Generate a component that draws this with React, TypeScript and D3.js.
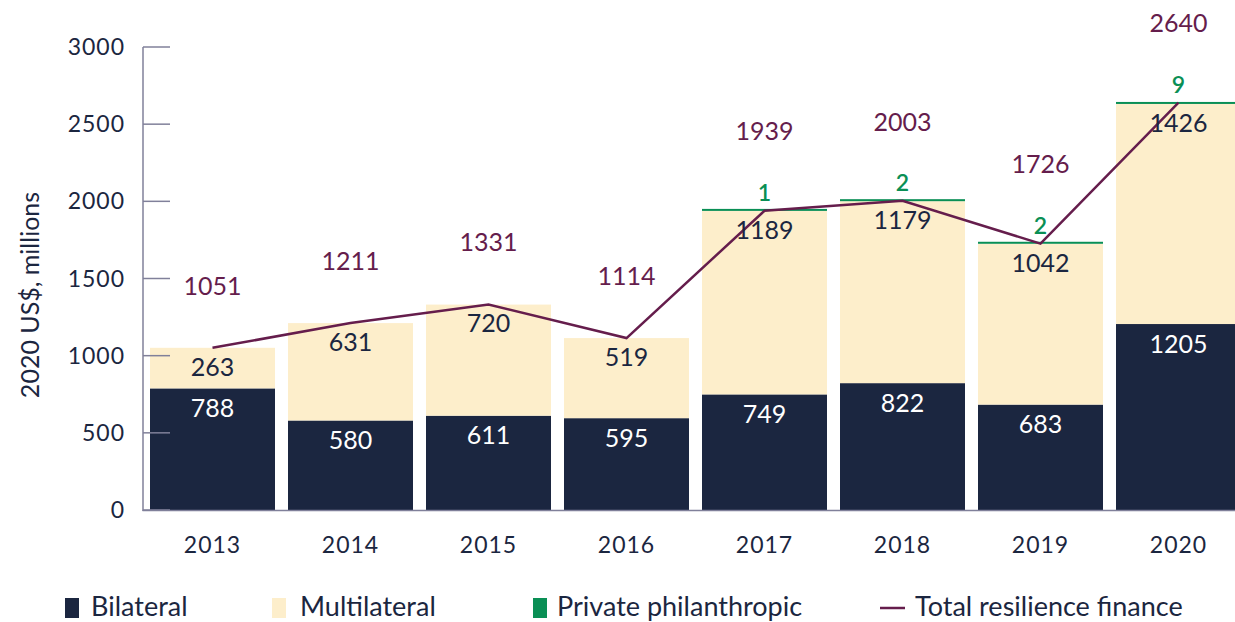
import React from "react";
import * as d3 from "d3";

const years = ["2013", "2014", "2015", "2016", "2017", "2018", "2019", "2020"];
const bilateral = [788, 580, 611, 595, 749, 822, 683, 1205];
const multilateral = [263, 631, 720, 519, 1189, 1179, 1042, 1426];
const privatePh = [0, 0, 0, 0, 1, 2, 2, 9];
const total = [1051, 1211, 1331, 1114, 1939, 2003, 1726, 2640];
const yTicks = [0, 500, 1000, 1500, 2000, 2500, 3000];

const W = 1235;
const H = 622;
const NAVY = "#1b2640";
const CREAM = "#fdeecb";
const GREEN = "#0a8f55";
const PURPLE = "#651d4c";
const AXIS = "#80809a";
const FONT = "Lato, 'Open Sans', sans-serif";

export default function App() {
  const x = d3
    .scaleBand<string>()
    .domain(years)
    .range([143.5, 143.5 + 138 * 8])
    .paddingInner(13 / 138)
    .paddingOuter(6.5 / 138);
  const y = d3.scaleLinear().domain([0, 3000]).range([510, 47]);
  const bw = x.bandwidth();
  const cx = (yr: string) => (x(yr) as number) + bw / 2;

  const line = d3
    .line<number>()
    .x((_, i) => cx(years[i]))
    .y((d) => y(d));

  return (
    <svg
      width={W}
      height={H}
      style={{ position: "absolute", left: 0, top: 0, background: "#fff" }}
      fontFamily={FONT}
    >
      {/* bars */}
      {years.map((yr, i) => {
        const x0 = x(yr) as number;
        const b = bilateral[i];
        const m = multilateral[i];
        const p = privatePh[i];
        const yB = y(b);
        const yM = y(b + m);
        const yP = y(b + m + p);
        return (
          <g key={yr}>
            <rect x={x0} y={yB} width={bw} height={y(0) - yB} fill={NAVY} />
            <rect x={x0} y={yM} width={bw} height={yB - yM} fill={CREAM} />
            {p > 0 && (
              <rect
                x={x0}
                y={Math.min(yP, yM - 2)}
                width={bw}
                height={Math.max(yM - yP, 2)}
                fill={GREEN}
              />
            )}
          </g>
        );
      })}

      {/* axes */}
      <line x1={143} x2={143} y1={47} y2={511} stroke={AXIS} strokeWidth={1.5} />
      <line x1={142.5} x2={W} y1={510.5} y2={510.5} stroke={AXIS} strokeWidth={1.5} />
      {yTicks.map((t) => (
        <g key={t}>
          <line x1={143} x2={170} y1={y(t)} y2={y(t)} stroke={AXIS} strokeWidth={1.5} />
          <text
            x={125}
            y={y(t)}
            dy="0.35em"
            textAnchor="end"
            fontSize={23}
            fill={NAVY}
            letterSpacing={1}
          >
            {t}
          </text>
        </g>
      ))}
      {years.map((yr) => (
        <text
          key={yr}
          x={cx(yr)}
          y={545}
          dy="0.35em"
          textAnchor="middle"
          fontSize={23}
          fill={NAVY}
          letterSpacing={1}
        >
          {yr}
        </text>
      ))}
      <text
        transform={`translate(30,295) rotate(-90)`}
        textAnchor="middle"
        dy="0.35em"
        fontSize={25}
        fill={NAVY}
      >
        2020 US$, millions
      </text>

      {/* total line */}
      <path d={line(total) || ""} fill="none" stroke={PURPLE} strokeWidth={2.5} />

      {/* labels */}
      {years.map((yr, i) => {
        const b = bilateral[i];
        const m = multilateral[i];
        const p = privatePh[i];
        const c = cx(yr);
        const topAll = y(b + m + p);
        return (
          <g key={"l" + yr} fontSize={25} textAnchor="middle">
            <text x={c} y={y(b) + 20} dy="0.35em" fill="#fff">
              {b}
            </text>
            <text x={c} y={y(b + m) + 19} dy="0.35em" fill={NAVY}>
              {m}
            </text>
            {p > 0 && (
              <text
                x={c}
                y={topAll - 18}
                dy="0.35em"
                fill={GREEN}
                fontSize={23}
                fontWeight={600}
              >
                {p}
              </text>
            )}
            <text
              x={c}
              y={y(total[i]) - (p > 0 ? 79 : 62)}
              dy="0.35em"
              fill={PURPLE}
            >
              {total[i]}
            </text>
          </g>
        );
      })}

      {/* legend */}
      <g fontSize={27} fill={NAVY}>
        <rect x={65} y={598} width={14} height={20} fill={NAVY} />
        <text x={91} y={616}>Bilateral</text>
        <rect x={272} y={598} width={14} height={20} fill={CREAM} />
        <text x={300} y={616}>Multilateral</text>
        <rect x={533} y={598} width={14} height={20} fill={GREEN} />
        <text x={557} y={616}>Private philanthropic</text>
        <line x1={880} x2={905} y1={608} y2={608} stroke={PURPLE} strokeWidth={2.5} />
        <text x={915} y={616}>Total resilience finance</text>
      </g>
    </svg>
  );
}
